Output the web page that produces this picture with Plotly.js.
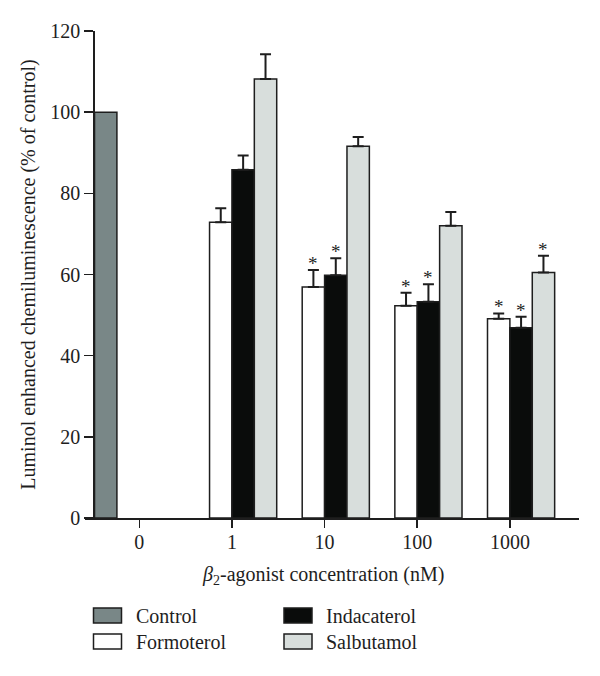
<!DOCTYPE html>
<html>
<head>
<meta charset="utf-8">
<script src="https://cdn.plot.ly/plotly-3.0.1.min.js"></script>
<style>
  body { margin: 0; background: white; }
  #chart { width: 600px; height: 676px; }
</style>
</head>
<body>
<div id="chart"></div>
<script>
// concentrations (nM) on the x axis
const concentrations = ['0', '1', '10', '100', '1000'];
const agonistDoses = ['1', '10', '100', '1000'];

// % of control
const controlMean = [100];
const formoterolMean = [72.9, 56.9, 52.3, 49.1];
const formoterolErr = [3.4, 4.2, 3.2, 1.3];
const formoterolSig = [false, true, true, true];
const indacaterolMean = [85.8, 59.8, 53.3, 46.9];
const indacaterolErr = [3.5, 4.2, 4.3, 2.7];
const indacaterolSig = [false, true, true, true];
const salbutamolMean = [108.2, 91.6, 72.0, 60.5];
const salbutamolErr = [6.1, 2.3, 3.4, 4.1];
const salbutamolSig = [false, false, false, true];

const FONT = '"Liberation Serif", "Times New Roman", serif';
const INK = '#1e1e1e';
const BARGAP = 0.0335;
const W = 600, H = 676;
const M = { l: 85, r: 21, t: 31, b: 158 };

const outline = { color: INK, width: 1.5 };
const errStyle = (arr) => ({
  type: 'data', symmetric: false, array: arr,
  arrayminus: arr.map(() => 0),
  color: INK, thickness: 2, width: 5.5
});

const control = {
  name: 'Control', type: 'bar', x: ['0'], y: controlMean,
  marker: { color: '#798787', line: outline }
};
const formoterol = {
  name: 'Formoterol', type: 'bar', x: agonistDoses, y: formoterolMean,
  error_y: errStyle(formoterolErr),
  marker: { color: '#ffffff', line: outline }
};
const indacaterol = {
  name: 'Indacaterol', type: 'bar', x: agonistDoses, y: indacaterolMean,
  error_y: errStyle(indacaterolErr),
  marker: { color: '#0a0c0b', line: outline }
};
const salbutamol = {
  name: 'Salbutamol', type: 'bar', x: agonistDoses, y: salbutamolMean,
  error_y: errStyle(salbutamolErr),
  marker: { color: '#d8dedc', line: outline }
};

const data = [control, formoterol, indacaterol, salbutamol];

// pixel -> paper helpers for the hand-made legend
const pw = W - M.l - M.r, ph = H - M.t - M.b;
const px = (v) => (v - M.l) / pw;
const py = (v) => (H - M.b - v) / ph;

// asterisks above the error bars of significant groups
const slotW = (1 - BARGAP) / 4;
const stars = [];
[[formoterolMean, formoterolErr, formoterolSig, 1],
 [indacaterolMean, indacaterolErr, indacaterolSig, 2],
 [salbutamolMean, salbutamolErr, salbutamolSig, 3]].forEach(([m, e, s, slot]) => {
  agonistDoses.forEach((d, i) => {
    if (!s[i]) return;
    stars.push({
      x: concentrations.indexOf(d) + (slot - 1.5) * slotW,
      y: m[i] + e[i], xref: 'x', yref: 'y',
      text: '*', showarrow: false, yanchor: 'bottom', yshift: -6,
      font: { family: FONT, size: 19, color: INK }
    });
  });
});

// legend in two columns, boxes like the original
const legendCols = [93.5, 284];
const legendRows = [615.5, 641.5];
const legendShapes = [];
const legendTexts = [];
[control, formoterol, indacaterol, salbutamol].forEach((tr, k) => {
  const cx = legendCols[Math.floor(k / 2)];
  const cy = legendRows[k % 2];
  legendShapes.push({
    type: 'rect', xref: 'paper', yref: 'paper',
    x0: px(cx), x1: px(cx + 28), y0: py(cy - 7.5), y1: py(cy + 7.5),
    fillcolor: tr.marker.color, line: { color: INK, width: 1.5 }
  });
  legendTexts.push({
    text: tr.name, xref: 'paper', yref: 'paper',
    x: px(cx + 40), y: py(cy), xanchor: 'left', yanchor: 'middle',
    showarrow: false, font: { family: FONT, size: 20, color: INK }
  });
});

const layout = {
  width: W,
  height: H,
  autosize: false,
  paper_bgcolor: 'white',
  plot_bgcolor: 'white',
  font: { family: FONT, size: 20, color: INK },
  margin: { l: M.l, r: M.r, t: M.t, b: M.b, pad: 0 },
  barmode: 'group',
  bargap: BARGAP,
  bargroupgap: 0,
  showlegend: false,
  xaxis: {
    type: 'category',
    categoryorder: 'array',
    categoryarray: concentrations,
    range: [-0.586, 4.746],
    showline: true, linecolor: INK, linewidth: 1.5,
    ticks: 'outside', ticklen: 8, tickwidth: 1.5, tickcolor: INK,
    ticklabelstandoff: -3,
    showgrid: false, zeroline: false,
    tickfont: { family: FONT, size: 20, color: INK }
  },
  yaxis: {
    range: [0, 120],
    tickvals: [0, 20, 40, 60, 80, 100, 120],
    anchor: 'free', position: 0.0168,
    showline: true, linecolor: INK, linewidth: 1.5,
    ticks: 'outside', ticklen: 9, tickwidth: 1.5, tickcolor: INK,
    showgrid: false, zeroline: false,
    tickfont: { family: FONT, size: 20, color: INK },
    title: {
      text: 'Luminol enhanced chemiluminescence (% of control)',
      font: { family: FONT, size: 20, color: INK },
      standoff: 8
    }
  },
  shapes: legendShapes,
  annotations: stars.concat(legendTexts, [{
    text: '<i>β</i><sub>2</sub>-agonist concentration (nM)',
    xref: 'paper', yref: 'paper', x: px(323), y: py(575),
    xanchor: 'center', yanchor: 'middle', showarrow: false,
    font: { family: FONT, size: 20, color: INK }
  }])
};

Plotly.newPlot('chart', data, layout, { displayModeBar: false, staticPlot: true });
</script>
</body>
</html>
